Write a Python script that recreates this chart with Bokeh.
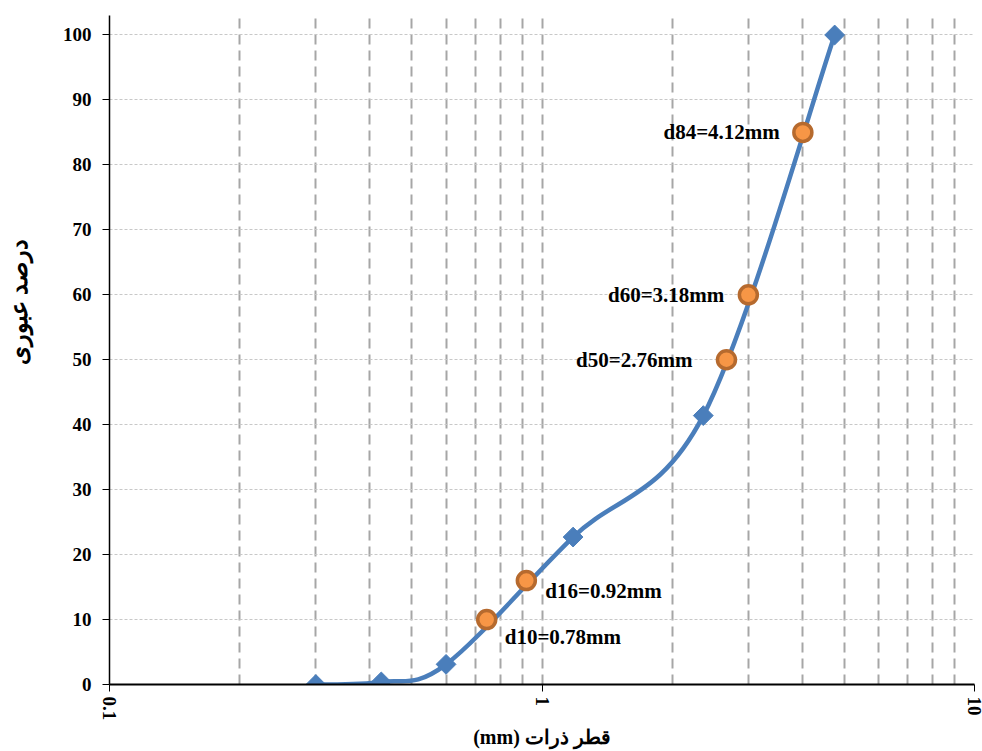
import math
from bokeh.plotting import figure
from bokeh.layouts import row
from bokeh.models import FixedTicker, Label, Range1d, ColumnDataSource
from bokeh.core.properties import value
from bokeh.embed import file_html
from bokeh.resources import INLINE

# ---- data ----
sieve_mm = [0.3, 0.425, 0.6, 1.18, 2.36, 4.75]
passing_pct = [0.0, 0.4, 3.1, 22.7, 41.4, 100.0]

d_names = ["d10=0.78mm", "d16=0.92mm", "d50=2.76mm", "d60=3.18mm", "d84=4.12mm"]
d_mm = [0.745, 0.92, 2.67, 3.0, 4.01]
d_pct = [10.0, 16.0, 50.0, 60.0, 85.0]

x_ticks = [0.1, 1, 10]
x_minor_ticks = [0.2, 0.3, 0.4, 0.5, 0.6, 0.7, 0.8, 0.9, 2, 3, 4, 5, 6, 7, 8, 9]
y_ticks = [0, 10, 20, 30, 40, 50, 60, 70, 80, 90, 100]

x_title = "قطر ذرات (mm)"
y_title = "درصد عبوری"

# ---- styles ----
FONT = "Liberation Serif"
BLUE = "#4A7EBB"
ORANGE = "#F79646"
ORANGE_DARK = "#B66A2E"
GRID_X = "#A6A6A6"
GRID_Y = "#C8C8C8"
RLE, PDF = "\u202b", "\u202c"   # right-to-left embedding for the Persian title
TITLE_W = 36                     # width of the strip holding the y title
TITLE_CY = 322                   # vertical pixel position of the y title
# label placement (align, x offset px, y offset px)
label_style = [("left", 18, -17), ("left", 19, -10), ("right", -34, 0),
               ("right", -24, 0), ("right", -23, 0)]

# ---- y-title strip ----
t = figure(width=TITLE_W, height=751, x_range=Range1d(0, TITLE_W),
           y_range=Range1d(0, 751), x_axis_location=None,
           y_axis_location=None, output_backend="svg",
           toolbar_location=None, min_border=0)
t.outline_line_color = None
t.grid.visible = False
t.add_layout(Label(x=TITLE_W / 2, y=751 - TITLE_CY, text=y_title,
                   angle=math.pi / 2, text_align="center",
                   text_baseline="middle", text_font=FONT,
                   text_font_style="bold", text_font_size="24px",
                   text_color="black"))

# ---- main chart ----
p = figure(width=982 - TITLE_W, height=751, x_axis_type="log",
           x_range=Range1d(0.1, 10), y_range=Range1d(0, 103),
           output_backend="svg", toolbar_location=None,
           min_border_left=109 - TITLE_W, min_border_right=8,
           min_border_top=15, min_border_bottom=66)
p.outline_line_color = None
p.background_fill_color = "white"
p.border_fill_color = "white"

# axes
p.xaxis.ticker = FixedTicker(ticks=x_ticks, minor_ticks=x_minor_ticks)
p.xaxis.major_label_overrides = {0.1: "0.1", 1: "1", 10: "10"}
p.yaxis.ticker = FixedTicker(ticks=y_ticks)
for ax in (p.xaxis[0], p.yaxis[0]):
    ax.major_label_text_font = FONT
    ax.major_label_text_font_style = "bold"
    ax.major_label_text_font_size = "19px"
    ax.major_label_text_color = "black"
    ax.axis_line_color = "black"
    ax.major_tick_line_color = "black"
    ax.major_tick_out = 7
    ax.major_tick_in = 0
    ax.minor_tick_out = 0
    ax.minor_tick_in = 0
    ax.minor_tick_line_color = None
p.xaxis.axis_line_width = 2
p.yaxis.axis_line_width = 1.5
p.xaxis.major_label_orientation = "vertical"
p.xaxis.major_label_standoff = 5
p.yaxis.major_label_standoff = 11

p.xaxis.axis_label = RLE + x_title + PDF
p.xaxis.axis_label_text_font = FONT
p.xaxis.axis_label_text_font_style = "bold"
p.xaxis.axis_label_text_font_size = "20px"
p.xaxis.axis_label_text_color = "black"
p.xaxis.axis_label_standoff = 3

# grids
p.xgrid.ticker = FixedTicker(ticks=x_ticks, minor_ticks=x_minor_ticks)
p.xgrid.grid_line_color = GRID_X
p.xgrid.grid_line_width = 2
p.xgrid.grid_line_dash = "10 6"
p.xgrid.minor_grid_line_color = GRID_X
p.xgrid.minor_grid_line_width = 2
p.xgrid.minor_grid_line_dash = "10 6"
p.ygrid.ticker = FixedTicker(ticks=y_ticks)
p.ygrid.grid_line_color = GRID_Y
p.ygrid.grid_line_width = 1
p.ygrid.grid_line_dash = "3 2"

# smoothed curve (Catmull-Rom style Bezier segments in log-x space)
u = [math.log10(v) for v in sieve_mm]
n = len(u)
seg = dict(x0=[], y0=[], x1=[], y1=[], cx0=[], cy0=[], cx1=[], cy1=[])
for i in range(n - 1):
    a = max(i - 1, 0)
    b = min(i + 2, n - 1)
    c1u = u[i] + (u[i + 1] - u[a]) / 6.0
    c1y = passing_pct[i] + (passing_pct[i + 1] - passing_pct[a]) / 6.0
    c2u = u[i + 1] - (u[b] - u[i]) / 6.0
    c2y = passing_pct[i + 1] - (passing_pct[b] - passing_pct[i]) / 6.0
    seg["x0"].append(sieve_mm[i]); seg["y0"].append(passing_pct[i])
    seg["x1"].append(sieve_mm[i + 1]); seg["y1"].append(passing_pct[i + 1])
    seg["cx0"].append(10 ** c1u); seg["cy0"].append(c1y)
    seg["cx1"].append(10 ** c2u); seg["cy1"].append(c2y)
p.bezier(x0="x0", y0="y0", x1="x1", y1="y1", cx0="cx0", cy0="cy0",
         cx1="cx1", cy1="cy1", source=ColumnDataSource(seg),
         line_color=BLUE, line_width=4.5, line_cap="round")

p.scatter(sieve_mm, passing_pct, marker="square", angle=math.pi / 4,
          size=14, fill_color=BLUE, line_color=BLUE, line_width=1)

p.scatter(d_mm, d_pct, marker="circle", size=18, fill_color=ORANGE,
          line_color=ORANGE_DARK, line_width=3.5)

for name, xv, yv, (al, dx, dy) in zip(d_names, d_mm, d_pct, label_style):
    p.add_layout(Label(x=xv, y=yv, text=name, text_align=al,
                       text_baseline="middle", x_offset=dx, y_offset=dy,
                       text_font=FONT, text_font_style="bold",
                       text_font_size="21px", text_color="black"))

layout = row(t, p, spacing=0)
open("out.html", "w").write(file_html(layout, INLINE))
